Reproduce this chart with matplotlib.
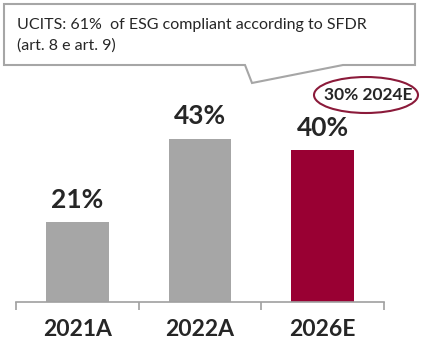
import matplotlib
matplotlib.use("Agg")
import matplotlib.pyplot as plt
from matplotlib.patches import Polygon, Ellipse

# share of ESG compliant UCITS
years = ["2021A", "2022A", "2026E"]
shares = [21, 43, 40]
bar_colors = ["#a6a6a6", "#a6a6a6", "#990033"]
callout_lines = ["UCITS: 61%  of ESG compliant according to SFDR", "(art. 8 e art. 9)"]
badge_text = "30% 2024E"

W, H = 421, 342
plt.rcParams["font.family"] = ["Lato", "DejaVu Sans"]

fig = plt.figure(figsize=(W / 100, H / 100), dpi=100)

# bar chart area: x from 16 to 384 px, baseline at 302 px
ax = fig.add_axes([16 / W, (H - 302) / H, 368 / W, 222 / H])
xs = list(range(len(years)))
ax.bar(xs, shares, width=0.51, color=bar_colors)
for x, v in zip(xs, shares):
    ax.text(x, v + 2.8, f"{v}%", ha="center", va="bottom",
            fontsize=19, fontweight="bold", color="#262626")

ax.set_xlim(-0.5, 2.5)
ax.set_ylim(0, 58.5)
for s in ["top", "right", "left"]:
    ax.spines[s].set_visible(False)
ax.spines["bottom"].set_color("#a0a0a0")
ax.spines["bottom"].set_linewidth(1.2)
ax.set_yticks([])
ax.set_xticks(xs)
ax.set_xticklabels(years, fontsize=16.5, fontweight="bold", color="#262626")
ax.set_xticks([-0.5, 0.5, 1.5, 2.5], minor=True)
ax.tick_params(axis="x", which="major", length=0, pad=12)
ax.tick_params(axis="x", which="minor", length=6, width=1.2, color="#a0a0a0", direction="out")

# overlay in pixel coordinates for the callout and the badge
ov = fig.add_axes([0, 0, 1, 1])
ov.set_xlim(0, W)
ov.set_ylim(H, 0)
ov.axis("off")

box = Polygon([(4, 4), (415, 4), (415, 65), (343, 65), (252, 83), (245, 65), (4, 65)],
              closed=True, facecolor="white", edgecolor="#a6a6a6", linewidth=1.5)
ov.add_patch(box)
ov.text(17, 25, callout_lines[0], fontsize=11.5, color="#262626", va="center")
ov.text(17, 46, callout_lines[1], fontsize=11.5, color="#262626", va="center")

ov.add_patch(Ellipse((366, 95), 104, 36, facecolor="none", edgecolor="#8b1a3a", linewidth=1.5))
ov.text(368, 95, badge_text, fontsize=12.5, fontweight="bold", color="#262626",
        ha="center", va="center")

fig.savefig("out.png", dpi=100)
